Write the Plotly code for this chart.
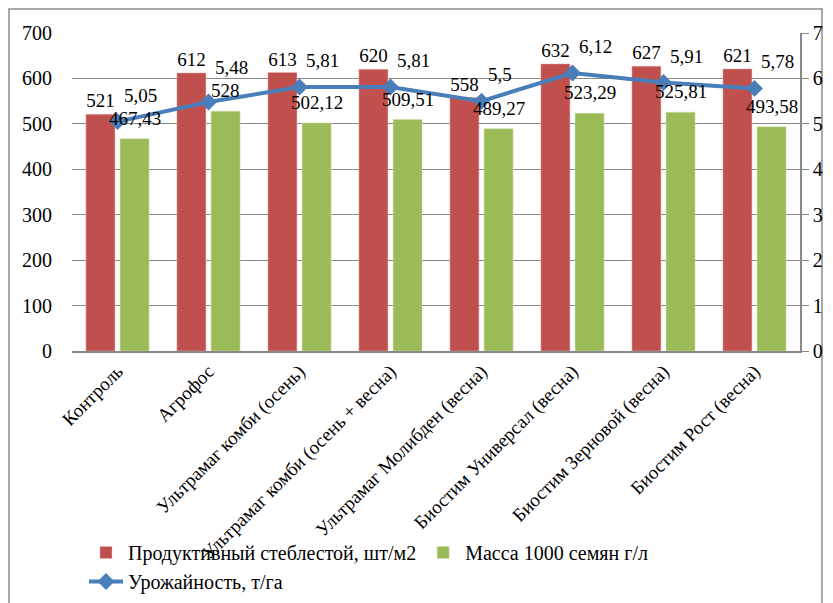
import plotly.graph_objects as go

categories = ["Контроль", "Агрофос", "Ультрамаг комби (осень)", "Ультрамаг комби (осень + весна)",
              "Ультрамаг Молибден (весна)", "Биостим Универсал (весна)", "Биостим Зерновой (весна)",
              "Биостим Рост (весна)"]
stems = [521, 612, 613, 620, 558, 632, 627, 621]
mass = [467.43, 528, 502.12, 509.51, 489.27, 523.29, 525.81, 493.58]
yield_t = [5.05, 5.48, 5.81, 5.81, 5.5, 6.12, 5.91, 5.78]

name_stems = "Продуктивный стеблестой, шт/м2"
name_mass = "Масса 1000 семян г/л"
name_yield = "Урожайность, т/га"


def fmt(v):
    s = ("%g" % v)
    return s.replace(".", ",")


FONT = "Liberation Serif"
GRID = "#888888"
FS = 20
LFS = 19

fig = go.Figure()
fig.add_trace(go.Bar(x=categories, y=stems, name=name_stems,
                     marker=dict(color="#C0504D", line=dict(color="#E8B0AE", width=0.5)),
                     text=[fmt(v) for v in stems], textposition="outside", cliponaxis=False,
                     constraintext="none", textangle=0,
                     textfont=dict(family=FONT, size=LFS, color="black")))
fig.add_trace(go.Bar(x=categories, y=mass, name=name_mass,
                     marker=dict(color="#9BBB59", line=dict(color="#D0E0B0", width=0.5))))
fig.add_trace(go.Scatter(x=categories, y=yield_t, name=name_yield, yaxis="y2", mode="lines+markers",
                         line=dict(color="#4A7EBB", width=4), cliponaxis=False,
                         marker=dict(symbol="diamond", size=13, color="#4A7EBB")))

# data labels of the green series, placed above each green bar
for c, v in zip(categories, mass):
    fig.add_annotation(x=c, y=v, xref="x", yref="y", text=fmt(v), showarrow=False,
                       xanchor="center", yanchor="bottom", xshift=17, yshift=8,
                       font=dict(family=FONT, size=LFS, color="black"))

# data labels of the yield line, above-right of each point (Агрофос label sits higher, as in the source)
for c, v in zip(categories, yield_t):
    extra = 8 if c == "Агрофос" else 0
    fig.add_annotation(x=c, y=v, xref="x", yref="y2", text=fmt(v), showarrow=False,
                       xanchor="left", yanchor="bottom", xshift=4, yshift=14 + extra,
                       font=dict(family=FONT, size=LFS, color="black"))

L, R, T, B = 72, 33, 33, 252
W, H = 833, 603
pw, ph = W - L - R, H - T - B


def px2x(p):
    return (p - L) / pw


def py2y(p):
    return (H - B - p) / ph


fig.update_layout(
    width=W, height=H,
    margin=dict(l=L, r=R, t=T, b=B, autoexpand=False),
    paper_bgcolor="white", plot_bgcolor="white",
    barmode="group", bargap=0.25, bargroupgap=0.15,
    font=dict(family=FONT, size=FS, color="black"),
    showlegend=True,
    legend=dict(orientation="h", x=px2x(84), y=py2y(533), xanchor="left", yanchor="top",
                font=dict(family=FONT, size=FS, color="black"), bgcolor="rgba(0,0,0,0)",
                traceorder="normal", itemwidth=34),
    xaxis=dict(tickangle=-45, showgrid=False, showline=True, linecolor=GRID, linewidth=1.5,
               ticks="", automargin=False, tickfont=dict(family=FONT, size=19, color="black")),
    yaxis=dict(range=[0, 700], dtick=100, showgrid=True, gridcolor=GRID, gridwidth=1, automargin=False,
               showline=False, zeroline=False, ticks="outside", ticklen=15, tickcolor="rgba(0,0,0,0)",
               tickfont=dict(family=FONT, size=FS, color="black")),
    yaxis2=dict(range=[0, 7], dtick=1, overlaying="y", side="right", showgrid=False, zeroline=False,
                automargin=False, showline=True, linecolor=GRID, linewidth=1.5, ticks="outside",
                ticklen=7, tickcolor=GRID, tickfont=dict(family=FONT, size=FS, color="black")),
    shapes=[dict(type="rect", xref="paper", yref="paper", x0=px2x(9), x1=px2x(822), y0=py2y(610), y1=py2y(9),
                 line=dict(color="#8C8C8C", width=1.5), layer="below")],
)

fig.write_html("out.html", config={"displayModeBar": False},
               post_script="document.body.style.margin='0';document.body.style.overflow='hidden';")
